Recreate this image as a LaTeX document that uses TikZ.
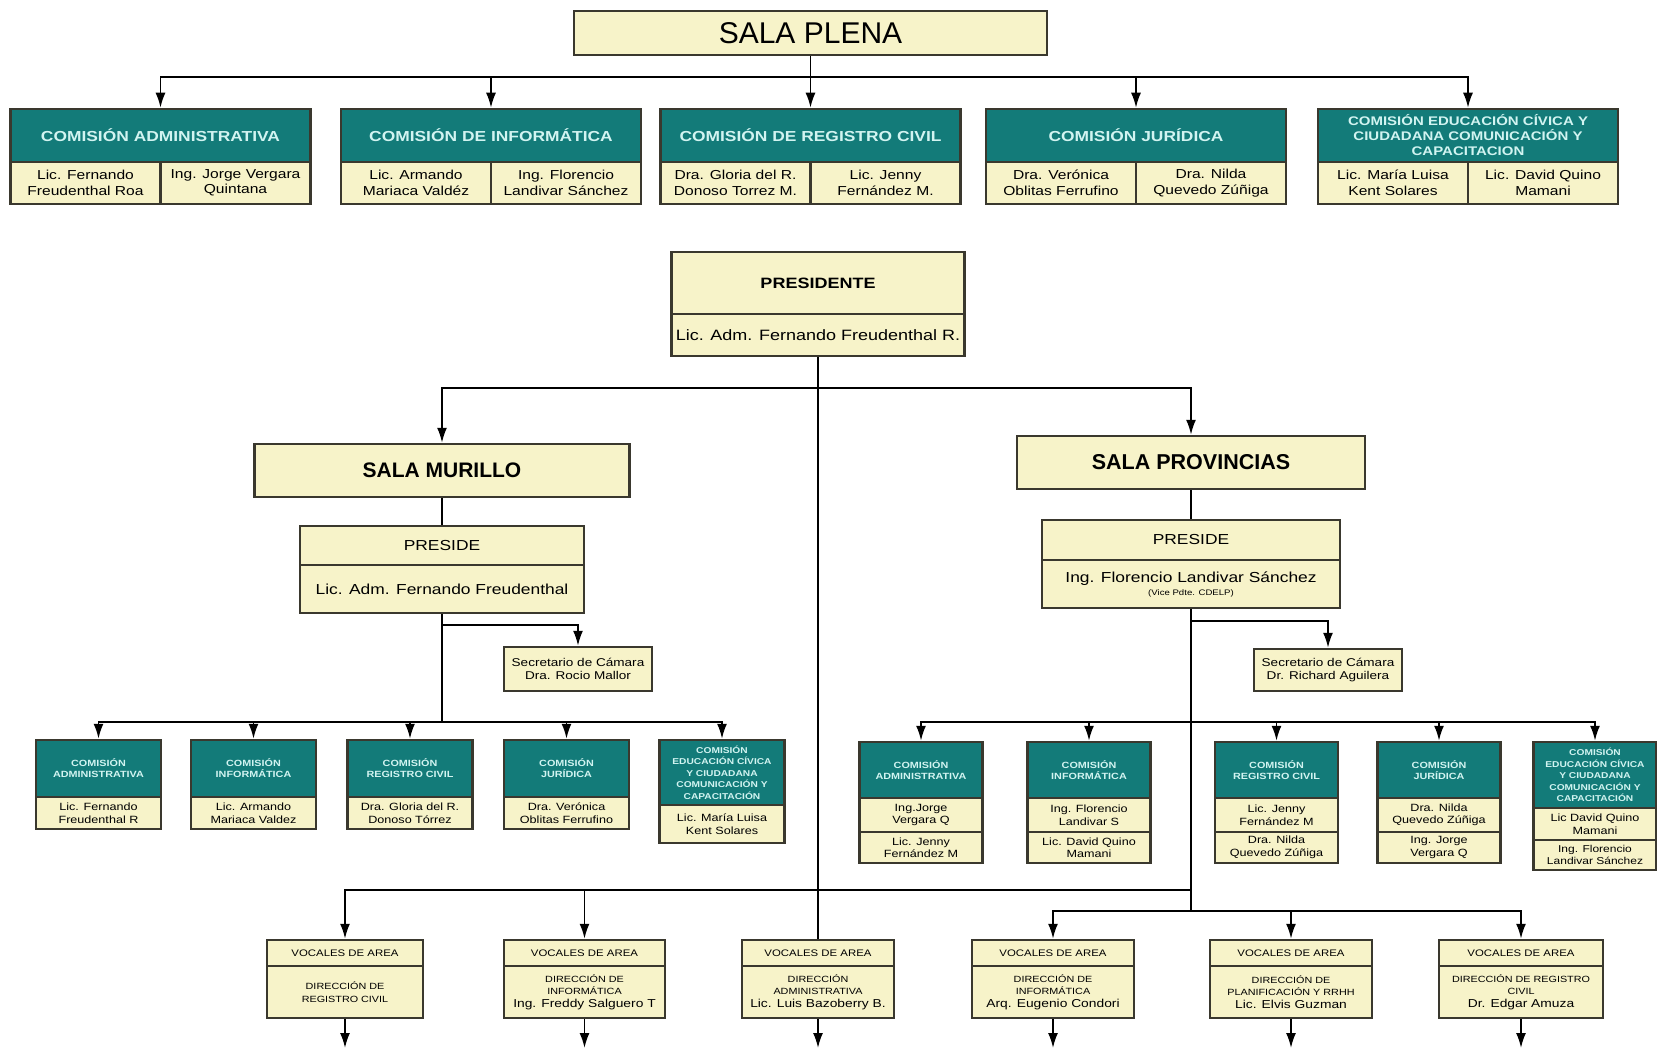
\documentclass[tikz,border=0pt]{standalone}
\usepackage{fontspec}
\setmainfont{Liberation Sans}[FakeStretch=1.2]
\newfontfamily\salafont{Liberation Sans}
\usetikzlibrary{arrows.meta}
\definecolor{amarillo}{HTML}{F7F3C9}
\definecolor{verdeazul}{HTML}{137B79}
\definecolor{borde}{HTML}{3A382E}
\definecolor{letraclara}{HTML}{D2F4F1}

\begin{document}
\begin{tikzpicture}[x=1pt, y=-1pt, every node/.style={inner sep=0pt, align=center}]
\tikzset{cabeza/.style={fill=verdeazul, draw=borde, line width=2.5pt, text=letraclara, font=\bfseries\fontsize{14.5}{16}\selectfont}}
\tikzset{celda/.style={fill=amarillo, draw=borde, line width=2.5pt, font=\fontsize{13}{15.5}\selectfont}}
\tikzset{linea/.style={line width=1.8pt}}
\tikzset{flecha/.style={-{Latex[length=15pt,width=10pt]}, line width=1.8pt}}
\path[fill=white] (0,0) rectangle (1657,1048);
\useasboundingbox (0,0) rectangle (1657,1048);

% sala plena y comisiones
\node[celda, minimum width=473, minimum height=44, font=\salafont\fontsize{30}{32}\selectfont] (plena) at (810.5,33) {SALA PLENA};
\tikzset{comgrande/.style={cabeza, minimum width=300, minimum height=53}}
\tikzset{nombre/.style={celda, minimum width=150, minimum height=42}}
\node[comgrande] (c1) at (160.5,135.5) {COMISIÓN ADMINISTRATIVA};
\node[nombre] (c1a) at (85.5,183) {Lic. Fernando\\Freudenthal Roa};
\node[nombre] (c1b) at (235.5,183) {Ing. Jorge Vergara\\Quintana};
\node[comgrande] (c2) at (491,135.5) {COMISIÓN DE INFORMÁTICA};
\node[nombre] (c2a) at (416,183) {Lic. Armando\\Mariaca Valdéz};
\node[nombre] (c2b) at (566,183) {Ing. Florencio\\Landivar Sánchez};
\node[comgrande] (c3) at (810.5,135.5) {COMISIÓN DE REGISTRO CIVIL};
\node[nombre] (c3a) at (735.5,183) {Dra. Gloria del R.\\Donoso Torrez M.};
\node[nombre] (c3b) at (885.5,183) {Lic. Jenny\\Fernández M.};
\node[comgrande] (c4) at (1136,135.5) {COMISIÓN JURÍDICA};
\node[nombre] (c4a) at (1061,183) {Dra. Verónica\\Oblitas Ferrufino};
\node[nombre] (c4b) at (1211,183) {Dra. Nilda\\Quevedo Zúñiga};
\node[comgrande, font=\bfseries\fontsize{12.5}{15}\selectfont] (c5) at (1468,135.5) {COMISIÓN EDUCACIÓN CÍVICA Y\\CIUDADANA COMUNICACIÓN Y\\CAPACITACION};
\node[nombre] (c5a) at (1393,183) {Lic. María Luisa\\Kent Solares};
\node[nombre] (c5b) at (1543,183) {Lic. David Quino\\Mamani};

\coordinate (b0) at (810.5,77);
\draw[linea] (plena) -- (b0);
\draw[linea] (160.5,77) -- (1468,77);
\draw[flecha] (b0) -| (c1);
\draw[flecha] (b0) -| (c2);
\draw[flecha] (b0) -- (c3);
\draw[flecha] (b0) -| (c4);
\draw[flecha] (b0) -| (c5);

% presidente
\node[celda, minimum width=293, minimum height=62, font=\bfseries\fontsize{15}{16}\selectfont] (presi) at (818,283) {PRESIDENTE};
\node[celda, minimum width=293, minimum height=42, font=\fontsize{15}{17}\selectfont] (presin) at (818,335) {Lic. Adm. Fernando Freudenthal R.};

% sala murillo
\node[celda, minimum width=375, minimum height=53, font=\salafont\bfseries\fontsize{21}{24}\selectfont] (murillo) at (442,470.5) {SALA MURILLO};
\node[celda, minimum width=284, minimum height=39, font=\fontsize{14.5}{16}\selectfont] (presm) at (442,545.5) {PRESIDE};
\node[celda, minimum width=284, minimum height=48, font=\fontsize{14.5}{16}\selectfont] (presmn) at (442,589) {Lic. Adm. Fernando Freudenthal};
\node[celda, minimum width=148, minimum height=44, font=\fontsize{11.3}{13.5}\selectfont] (secm) at (578,669) {Secretario de Cámara\\Dra. Rocio Mallor};

% sala provincias
\node[celda, minimum width=348, minimum height=53, font=\salafont\bfseries\fontsize{21.5}{24}\selectfont] (prov) at (1191,462.5) {SALA PROVINCIAS};
\node[celda, minimum width=298, minimum height=40, font=\fontsize{14.5}{16}\selectfont] (presp) at (1191,540) {PRESIDE};
\node[celda, minimum width=298, minimum height=48, font=\fontsize{14.5}{13}\selectfont] (prespn) at (1191,584) {Ing. Florencio Landivar Sánchez\\{\fontsize{8}{9}\selectfont (Vice Pdte. CDELP)}};
\node[celda, minimum width=148, minimum height=42, font=\fontsize{11.3}{13.5}\selectfont] (secp) at (1328,670) {Secretario de Cámara\\Dr. Richard Aguilera};

% comisiones de sala murillo
\tikzset{comchica/.style={cabeza, minimum width=125, minimum height=57, font=\bfseries\fontsize{9}{11}\selectfont}}
\tikzset{nomchico/.style={celda, minimum width=125, minimum height=32, font=\fontsize{10.5}{13}\selectfont}}
\node[comchica] (m1) at (98.5,768.5) {COMISIÓN\\ADMINISTRATIVA};
\node[nomchico] (m1a) at (98.5,813) {Lic. Fernando\\Freudenthal R};
\node[comchica] (m2) at (253.5,768.5) {COMISIÓN\\INFORMÁTICA};
\node[nomchico] (m2a) at (253.5,813) {Lic. Armando\\Mariaca Valdez};
\node[comchica] (m3) at (410,768.5) {COMISIÓN\\REGISTRO CIVIL};
\node[nomchico] (m3a) at (410,813) {Dra. Gloria del R.\\Donoso Tórrez};
\node[comchica] (m4) at (566.5,768.5) {COMISIÓN\\JURÍDICA};
\node[nomchico] (m4a) at (566.5,813) {Dra. Verónica\\Oblitas Ferrufino};
\node[comchica, minimum height=65, font=\bfseries\fontsize{8.5}{11.5}\selectfont] (m5) at (722,772.5) {COMISIÓN\\EDUCACIÓN CÍVICA\\Y CIUDADANA\\COMUNICACIÓN Y\\CAPACITACIÓN};
\node[nomchico, minimum height=38] (m5a) at (722,824) {Lic. María Luisa\\Kent Solares};

% comisiones de sala provincias
\tikzset{comchica/.style={cabeza, minimum width=123, minimum height=56, font=\bfseries\fontsize{9}{11}\selectfont}}
\tikzset{nomchico/.style={celda, minimum width=123, minimum height=34, font=\fontsize{10.5}{12.5}\selectfont}}
\node[comchica] (p1) at (921,770) {COMISIÓN\\ADMINISTRATIVA};
\node[nomchico] (p1a) at (921,815) {Ing.Jorge\\Vergara Q};
\node[nomchico, minimum height=31] (p1b) at (921,847.5) {Lic. Jenny\\Fernández M};
\node[comchica] (p2) at (1089,770) {COMISIÓN\\INFORMÁTICA};
\node[nomchico] (p2a) at (1089,815) {Ing. Florencio\\Landivar S};
\node[nomchico, minimum height=31] (p2b) at (1089,847.5) {Lic. David Quino\\Mamani};
\node[comchica] (p3) at (1276.5,770) {COMISIÓN\\REGISTRO CIVIL};
\node[nomchico] (p3a) at (1276.5,815) {Lic. Jenny\\Fernández M};
\node[nomchico, minimum height=31] (p3b) at (1276.5,847.5) {Dra. Nilda\\Quevedo Zúñiga};
\node[comchica] (p4) at (1439,770) {COMISIÓN\\JURÍDICA};
\node[nomchico] (p4a) at (1439,815) {Dra. Nilda\\Quevedo Zúñiga};
\node[nomchico, minimum height=31] (p4b) at (1439,847.5) {Ing. Jorge\\Vergara Q};
\node[comchica, minimum height=66, font=\bfseries\fontsize{8.5}{11.5}\selectfont] (p5) at (1595,775) {COMISIÓN\\EDUCACIÓN CÍVICA\\Y CIUDADANA\\COMUNICACIÓN Y\\CAPACITACIÓN};
\node[nomchico, minimum height=32] (p5a) at (1595,824) {Lic David Quino\\Mamani};
\node[nomchico, minimum height=30, font=\fontsize{10}{11.5}\selectfont] (p5b) at (1595,855) {Ing. Florencio\\Landivar Sánchez};

% vocales de area
\tikzset{vocal/.style={celda, minimum height=26, font=\fontsize{9.5}{10}\selectfont}}
\tikzset{direccion/.style={celda, minimum height=52, font=\fontsize{9}{12.5}\selectfont}}
\newcommand{\persona}[1]{{\fontsize{11.5}{13}\selectfont #1}}
\node[vocal, minimum width=156] (v1) at (345,953) {VOCALES DE AREA};
\node[direccion, minimum width=156] (v1a) at (345,992) {DIRECCIÓN DE\\REGISTRO CIVIL};
\node[vocal, minimum width=161] (v2) at (584.5,953) {VOCALES DE AREA};
\node[direccion, minimum width=161] (v2a) at (584.5,992) {DIRECCIÓN DE\\INFORMÁTICA\\\persona{Ing. Freddy Salguero T}};
\node[vocal, minimum width=152] (v3) at (818,953) {VOCALES DE AREA};
\node[direccion, minimum width=152] (v3a) at (818,992) {DIRECCIÓN\\ADMINISTRATIVA\\\persona{Lic. Luis Bazoberry B.}};
\node[vocal, minimum width=162] (v4) at (1053,953) {VOCALES DE AREA};
\node[direccion, minimum width=162] (v4a) at (1053,992) {DIRECCIÓN DE\\INFORMÁTICA\\\persona{Arq. Eugenio Condori}};
\node[vocal, minimum width=162] (v5) at (1291,953) {VOCALES DE AREA};
\node[direccion, minimum width=162] (v5a) at (1291,992) {DIRECCIÓN DE\\PLANIFICACIÓN Y RRHH\\\persona{Lic. Elvis Guzman}};
\node[vocal, minimum width=164] (v6) at (1521,953) {VOCALES DE AREA};
\node[direccion, minimum width=164] (v6a) at (1521,992) {DIRECCIÓN DE REGISTRO\\CIVIL\\\persona{Dr. Edgar Amuza}};

% conectores
\coordinate (b1) at (818,388);
\draw[linea] (presin) -- (v3);
\draw[linea] (442,388) -- (1191,388);
\draw[flecha] (b1) -| (murillo);
\draw[flecha] (b1) -| (prov);

\coordinate (sm) at (442,625);
\coordinate (bm) at (442,722);
\draw[linea] (murillo) -- (presm);
\draw[linea] (presmn) -- (bm);
\draw[flecha] (sm) -| (secm);
\draw[linea] (98.5,722) -- (722,722);
\draw[flecha] (bm) -| (m1);
\draw[flecha] (bm) -| (m2);
\draw[flecha] (bm) -| (m3);
\draw[flecha] (bm) -| (m4);
\draw[flecha] (bm) -| (m5);

\coordinate (sp) at (1191,621);
\coordinate (bp) at (1191,722);
\coordinate (bv1) at (1191,890);
\coordinate (bv2) at (1191,911);
\draw[linea] (prov) -- (presp);
\draw[linea] (prespn) -- (bv2);
\draw[flecha] (sp) -| (secp);
\draw[linea] (921,722) -- (1595,722);
\draw[flecha] (bp) -| (p1);
\draw[flecha] (bp) -| (p2);
\draw[flecha] (bp) -| (p3);
\draw[flecha] (bp) -| (p4);
\draw[flecha] (bp) -| (p5);

\draw[linea] (345,890) -- (bv1);
\draw[flecha] (bv1) -| (v1);
\draw[flecha] (bv1) -| (v2);
\draw[linea] (1053,911) -- (1521,911);
\draw[flecha] (bv2) -| (v4);
\draw[flecha] (bv2) -| (v5);
\draw[flecha] (bv2) -| (v6);

\coordinate (e1) at (345,1048);
\coordinate (e2) at (584.5,1048);
\coordinate (e3) at (818,1048);
\coordinate (e4) at (1053,1048);
\coordinate (e5) at (1291,1048);
\coordinate (e6) at (1521,1048);
\draw[flecha] (v1a) -- (e1);
\draw[flecha] (v2a) -- (e2);
\draw[flecha] (v3a) -- (e3);
\draw[flecha] (v4a) -- (e4);
\draw[flecha] (v5a) -- (e5);
\draw[flecha] (v6a) -- (e6);
\end{tikzpicture}
\end{document}
